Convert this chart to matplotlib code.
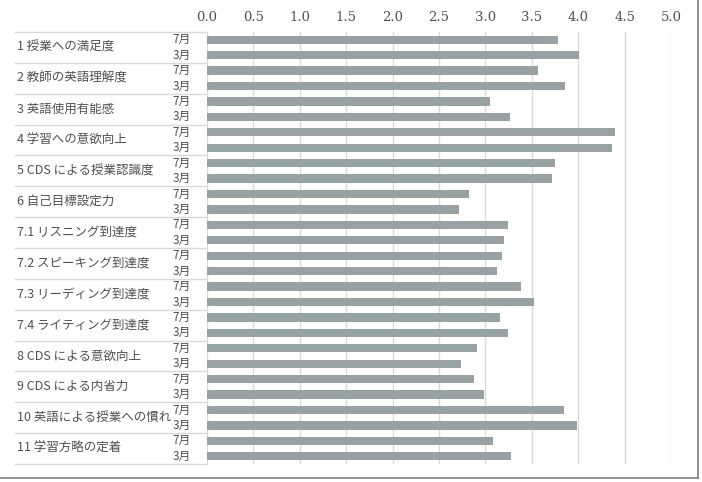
import matplotlib
matplotlib.use("Agg")
import matplotlib.pyplot as plt
import matplotlib.transforms as mtransforms

categories = ["1 授業への満足度", "2 教師の英語理解度", "3 英語使用有能感", "4 学習への意欲向上",
              "5 CDS による授業認識度", "6 自己目標設定力", "7.1 リスニング到達度", "7.2 スピーキング到達度",
              "7.3 リーディング到達度", "7.4 ライティング到達度", "8 CDS による意欲向上", "9 CDS による内省力",
              "10 英語による授業への慣れ", "11 学習方略の定着"]
periods = ["7月", "3月"]
july = [3.78, 3.57, 3.05, 4.40, 3.75, 2.82, 3.24, 3.18, 3.38, 3.16, 2.91, 2.88, 3.85, 3.08]
march = [4.01, 3.86, 3.27, 4.36, 3.72, 2.72, 3.20, 3.12, 3.52, 3.24, 2.74, 2.99, 3.99, 3.28]
xticks = [0.0, 0.5, 1.0, 1.5, 2.0, 2.5, 3.0, 3.5, 4.0, 4.5, 5.0]

W, H = 702, 482
fig = plt.figure(figsize=(W / 100, H / 100), dpi=100)
jp = ["Noto Sans CJK JP", "DejaVu Sans"]
textc = "#505050"

ax_l, ax_r, ax_t, ax_b = 207, 671, 32, 464
ax = fig.add_axes([ax_l / W, 1 - ax_b / H, (ax_r - ax_l) / W, (ax_b - ax_t) / H])

n = len(categories)
bar_color = "#97a3a2"
for i in range(n):
    ax.barh(2 * i + 0.5, july[i], height=0.54, color=bar_color, zorder=3)
    ax.barh(2 * i + 1.5, march[i], height=0.54, color=bar_color, zorder=3)

ax.set_xlim(0, 5)
ax.set_ylim(2 * n, 0)
ax.set_xticks(xticks)
ax.set_xticklabels([f"{t:.1f}" for t in xticks], family="DejaVu Serif", fontsize=9.5, color=textc)
ax.xaxis.tick_top()
ax.tick_params(axis="x", length=0, pad=6)
ax.set_yticks([])
for s in ax.spines.values():
    s.set_visible(False)
ax.grid(axis="x", color="#d9d9d9", linewidth=1, zorder=0)

trans = mtransforms.blended_transform_factory(ax.transAxes, ax.transData)
x0 = (15 - ax_l) / (ax_r - ax_l)
for k in range(n + 1):
    ax.plot([x0, 0], [2 * k, 2 * k], transform=trans, color="#d9d9d9", lw=1, clip_on=False)

xlab = (17 - ax_l) / (ax_r - ax_l)
xmon = (191 - ax_l) / (ax_r - ax_l)
for i, c in enumerate(categories):
    ax.text(xlab, 2 * i + 1, c, transform=trans, ha="left", va="center",
            family=jp, fontsize=9, color=textc)
    for j, p in enumerate(periods):
        ax.text(xmon, 2 * i + 0.5 + j, p, transform=trans, ha="right", va="center",
                family=jp, fontsize=8.5, color=textc)

# outer frame (right and bottom)
fig.add_artist(plt.Line2D([697.5 / W, 697.5 / W], [1 - 478 / H, 1], color="#7f7f7f", lw=1.2))
fig.add_artist(plt.Line2D([0, 697.5 / W], [1 - 478 / H, 1 - 478 / H], color="#7f7f7f", lw=1.2))

fig.savefig("out.png", dpi=100)
